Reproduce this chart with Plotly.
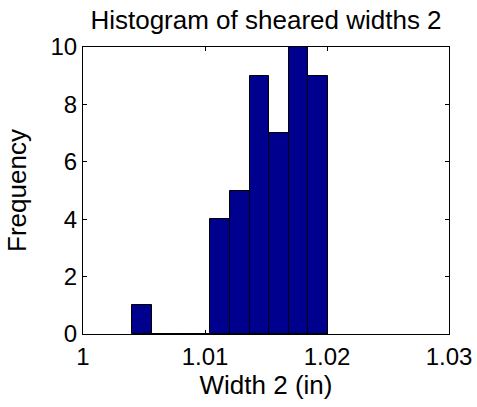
import plotly.graph_objects as go

bin_centers = [1.00485, 1.00645, 1.00805, 1.00965, 1.01125, 1.01285, 1.01445, 1.01605, 1.01765, 1.01925]
counts = [1, 0, 0, 0, 4, 5, 9, 7, 10, 9]
bin_width = 0.0016
x_ticks = [1.0, 1.01, 1.02, 1.03]
x_tick_labels = ["1", "1.01", "1.02", "1.03"]
y_ticks = [0, 2, 4, 6, 8, 10]

fig = go.Figure(go.Bar(
    x=bin_centers, y=counts, width=[bin_width] * len(counts),
    marker=dict(color="#00008F", line=dict(color="black", width=1)),
))

font = "Liberation Sans, Arial, sans-serif"
fig.update_layout(
    width=477, height=407,
    margin=dict(l=83, r=28, t=47, b=73, autoexpand=False),
    paper_bgcolor="white", plot_bgcolor="white",
    showlegend=False, bargap=0,
    font=dict(family=font, size=24, color="black"),
    title=dict(text="Histogram of sheared widths 2", x=0.5, xref="paper",
               y=1.0, yref="paper", yanchor="bottom", pad=dict(b=18),
               automargin=False,
               font=dict(size=26, family=font, color="black")),
    xaxis=dict(range=[1.0, 1.03], tickvals=x_ticks, ticktext=x_tick_labels,
               ticks="inside", ticklen=4, tickcolor="black", showline=True, linecolor="black",
               linewidth=1.2, mirror="ticks", showgrid=False, zeroline=False,
               ticklabelstandoff=1, automargin=False,
               title=dict(text="Width 2 (in)", standoff=4, font=dict(size=26))),
    yaxis=dict(range=[0, 10], tickvals=y_ticks, ticks="inside", ticklen=4, tickcolor="black",
               showline=True, linecolor="black", linewidth=1.2, mirror="ticks",
               showgrid=False, zeroline=False, ticklabelstandoff=0, automargin=False,
               title=dict(text="Frequency", standoff=16, font=dict(size=26))),
)

fig.write_html("out.html", config={"displayModeBar": False},
               post_script="document.body.style.margin='0';")
